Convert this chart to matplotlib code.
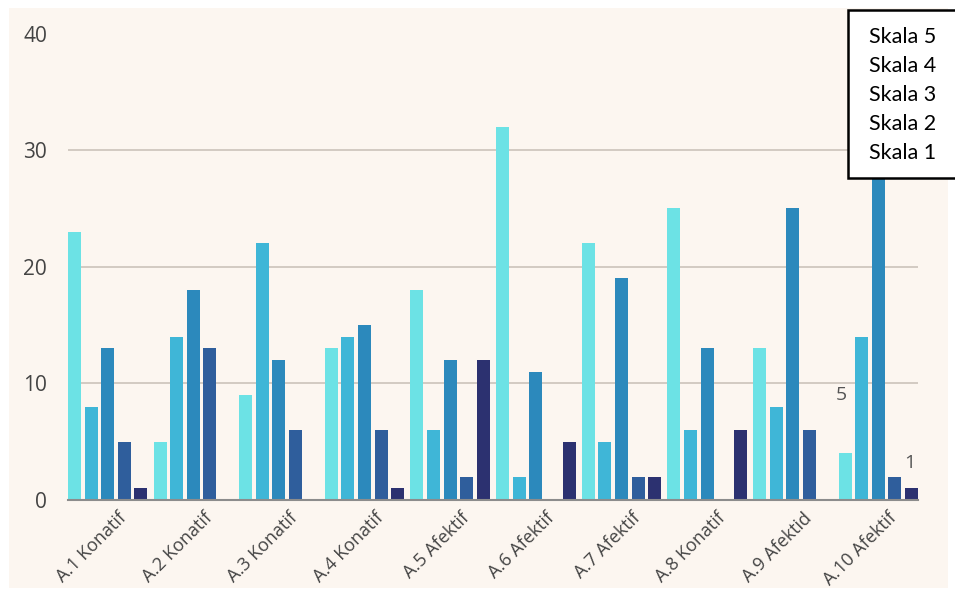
import numpy as np
import matplotlib.pyplot as plt
import matplotlib.transforms as mtransforms

# data
categories = ["A.1 Konatif", "A.2 Konatif", "A.3 Konatif", "A.4 Konatif", "A.5 Afektif",
              "A.6 Afektif", "A.7 Afektif", "A.8 Konatif", "A.9 Afektid", "A.10 Afektif"]
series_names = ["Skala 5", "Skala 4", "Skala 3", "Skala 2", "Skala 1"]
skala5 = [23, 5, 9, 13, 18, 32, 22, 25, 13, 4]
skala4 = [8, 14, 22, 14, 6, 2, 5, 6, 8, 14]
skala3 = [13, 18, 12, 15, 12, 11, 19, 13, 25, 29]
skala2 = [5, 13, 6, 6, 2, 0, 2, 0, 6, 2]
skala1 = [1, 0, 0, 1, 12, 5, 2, 6, 0, 1]
stray_labels = [("5", 8.57, 9.0), ("1", 9.37, 3.2)]

colors = ["#6ce2e5", "#3fb6d7", "#2c89bc", "#2f5e9c", "#2c3170"]
bg = "#fcf6f0"

fig = plt.figure(figsize=(9.55, 5.9), dpi=100)
fig.patch.set_facecolor("white")
# beige panel behind the chart
fig.patches.append(plt.Rectangle((9 / 955, 2 / 590), 939 / 955, 580 / 590,
                                 transform=fig.transFigure, facecolor=bg,
                                 edgecolor="none", zorder=0))

ax = fig.add_axes([68 / 955, 90 / 590, 850 / 955, 466.5 / 590])
ax.set_facecolor("none")
ax.set_zorder(2)

x = np.arange(len(categories))
step = 0.194
width = 0.152
for i, vals in enumerate([skala5, skala4, skala3, skala2, skala1]):
    ax.bar(x + (i - 2) * step, vals, width, color=colors[i], zorder=3)

ax.set_xlim(-0.464, 9.464)
ax.set_ylim(0, 40)
ax.set_yticks([0, 10, 20, 30, 40])
ax.yaxis.grid(True, color="#cbc3bb", linewidth=1.2, zorder=0)
for s in ["top", "right", "left"]:
    ax.spines[s].set_visible(False)
ax.spines["bottom"].set_color("#8c8c8c")
ax.spines["bottom"].set_linewidth(1.5)
ax.spines["bottom"].set_zorder(4)
ax.tick_params(axis="both", length=0)
ax.tick_params(axis="y", pad=15, labelsize=15, labelcolor="#444444")
for lab in ax.get_yticklabels():
    lab.set_fontfamily("Open Sans")

ax.set_xticks(x)
ax.set_xticklabels(categories, rotation=45, ha="right", va="top",
                   rotation_mode="anchor", fontsize=13, color="#444444",
                   family="Open Sans")
offset = mtransforms.ScaledTranslation(7 / 72, -3 / 72, fig.dpi_scale_trans)
for lab in ax.get_xticklabels():
    lab.set_transform(lab.get_transform() + offset)

for txt, xv, yv in stray_labels:
    ax.text(xv, yv, txt, fontsize=14, color="#555555", family="Open Sans",
            ha="center", va="center", zorder=5)

# legend box with text only
fig.text(869 / 955, 1 - 95 / 590, "\n".join(series_names), fontsize=15.5,
         family="Lato", color="black", ha="left", va="center", linespacing=1.55,
         zorder=10)
fig.patches.append(plt.Rectangle((848 / 955, 1 - 178 / 590), 120 / 955, 168 / 590,
                                 transform=fig.transFigure, facecolor="white",
                                 edgecolor="black", linewidth=1.8, zorder=9))

fig.savefig("out.png", dpi=100)
